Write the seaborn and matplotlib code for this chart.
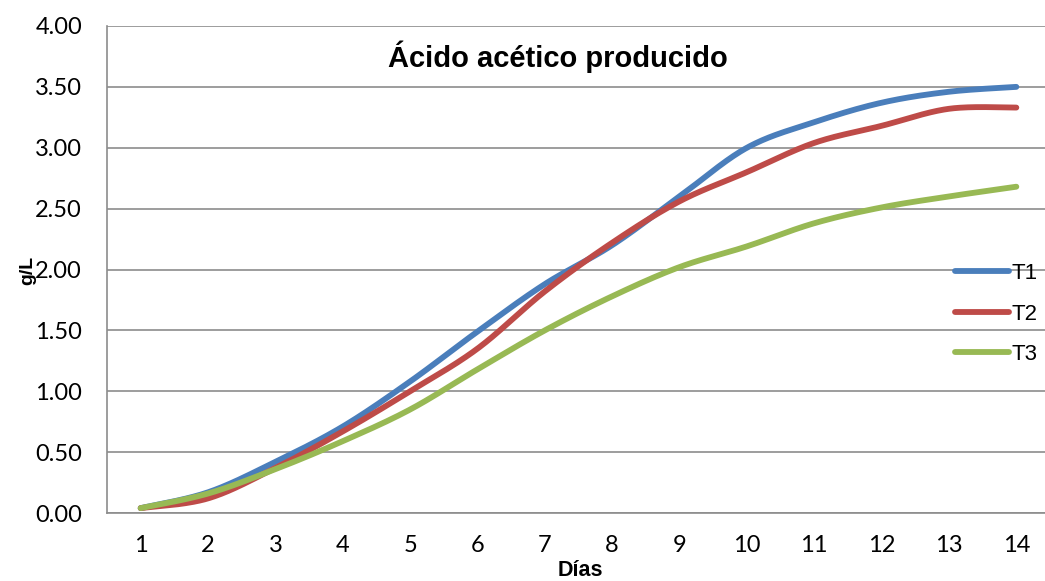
import numpy as np
import pandas as pd
import matplotlib
matplotlib.use("Agg")
import matplotlib.pyplot as plt
import seaborn as sns

# Acetic acid produced per day for each treatment (g/L)
dias = [1, 2, 3, 4, 5, 6, 7, 8, 9, 10, 11, 12, 13, 14]
t1 = [0.04, 0.17, 0.42, 0.71, 1.08, 1.49, 1.88, 2.20, 2.60, 3.00, 3.21, 3.37, 3.46, 3.50]
t2 = [0.04, 0.12, 0.37, 0.67, 1.00, 1.35, 1.82, 2.22, 2.56, 2.80, 3.04, 3.18, 3.32, 3.33]
t3 = [0.04, 0.16, 0.36, 0.59, 0.85, 1.18, 1.50, 1.78, 2.02, 2.19, 2.38, 2.51, 2.60, 2.68]
series = {"T1": t1, "T2": t2, "T3": t3}
colores = {"T1": "#4A7EBB", "T2": "#BE4B48", "T3": "#98B954"}
y_ticks = [0.0, 0.5, 1.0, 1.5, 2.0, 2.5, 3.0, 3.5, 4.0]
titulo = "Ácido acético producido"


def smooth_curve(x, y, n=40):
    """Bezier smoothing through every point (spreadsheet-style smoothed line)."""
    pts = np.column_stack([x, y]).astype(float)
    P = np.vstack([pts[0], pts, pts[-1]])
    xs, ys = [], []
    for i in range(1, len(P) - 2):
        p0, p1, p2, p3 = P[i - 1], P[i], P[i + 1], P[i + 2]
        c1 = p1 + (p2 - p0) / 6.0
        c2 = p2 - (p3 - p1) / 6.0
        t = np.linspace(0, 1, n, endpoint=(i == len(P) - 3))[:, None]
        b = ((1 - t) ** 3) * p1 + 3 * ((1 - t) ** 2) * t * c1 + 3 * (1 - t) * t ** 2 * c2 + t ** 3 * p2
        xs.append(b[:, 0])
        ys.append(b[:, 1])
    return np.concatenate(xs), np.concatenate(ys)


frames = []
for name, vals in series.items():
    sx, sy = smooth_curve(dias, vals)
    frames.append(pd.DataFrame({"Días": sx, "g/L": sy, "Tratamiento": name}))
df = pd.concat(frames, ignore_index=True)

sns.set_theme(style="white")
plt.rcParams["font.family"] = ["Lato", "DejaVu Sans"]
plt.rcParams["text.color"] = "black"

fig = plt.figure(figsize=(10.45, 5.81), dpi=100)
ax = fig.add_axes([107 / 1045, 1 - 513 / 581, (1050 - 107) / 1045, (513 - 26) / 581])

sns.lineplot(data=df, x="Días", y="g/L", hue="Tratamiento", palette=colores,
             sort=False, estimator=None, linewidth=4.2, ax=ax,
             solid_capstyle="round")

ax.set_xlim(0.5, 14.5)
ax.set_ylim(0, 4)
ax.set_xticks(dias)
ax.set_xticklabels([str(d) for d in dias])
ax.set_yticks(y_ticks)
ax.set_yticklabels([f"{v:.2f}" for v in y_ticks])
ax.tick_params(axis="both", length=0, labelsize=17, colors="black")
ax.tick_params(axis="x", pad=16)
ax.tick_params(axis="y", pad=18)
ax.set_xlabel("")
ax.set_ylabel("")

grid_col = "#8C8C8C"
ax.yaxis.grid(True, color=grid_col, linewidth=1.2)
ax.xaxis.grid(False)
ax.set_axisbelow(True)
for side in ["top", "right"]:
    ax.spines[side].set_visible(False)
for side in ["left", "bottom"]:
    ax.spines[side].set_color(grid_col)
    ax.spines[side].set_linewidth(1.2)

handles, labels = ax.get_legend_handles_labels()
for h in handles:
    h.set_linewidth(4.2)
    h.set_solid_capstyle("round")
leg = ax.legend(handles, labels, loc="upper left", bbox_to_anchor=(955 / 1045, 1 - 263 / 581),
                bbox_transform=fig.transFigure, frameon=False, handlelength=2.45,
                handletextpad=0.1, labelspacing=0.88, borderaxespad=0, borderpad=0,
                prop={"family": "Liberation Sans", "size": 16})
for txt in leg.get_texts():
    txt.set_color("black")

fig.text(558 / 1045, 1 - 57 / 581, titulo, ha="center", va="center", color="black",
         fontsize=21, fontweight="bold", family="Liberation Sans")
fig.text(580 / 1045, 1 - 570 / 581, "Días", ha="center", va="center", color="black",
         fontsize=15.5, fontweight="bold", family="Liberation Sans")
fig.text(28 / 1045, 1 - 270 / 581, "g/L", ha="center", va="center", rotation=90,
         color="black", fontsize=14, fontweight="bold", family="Liberation Sans")

fig.savefig("out.png", dpi=100, facecolor="white")
